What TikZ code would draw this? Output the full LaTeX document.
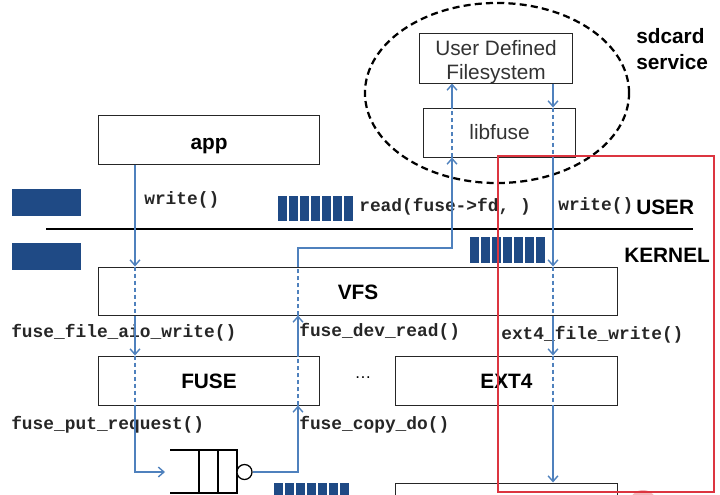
\documentclass[tikz,border=0pt]{standalone}
\usepackage{fontspec}
\setmainfont{Liberation Sans}
\setmonofont{Liberation Mono}
\usetikzlibrary{arrows.meta}
\definecolor{flowBlue}{HTML}{4F81BD}
\definecolor{barNavy}{HTML}{1F4A85}
\definecolor{markRed}{HTML}{DC3540}

\begin{document}
\begin{tikzpicture}[x=0.025cm, y=-0.025cm,
		layer/.style={
			draw=black!85, line width=0.7pt, minimum height=1.225cm,
			font=\fontsize{14.8}{17}\selectfont\bfseries, inner sep=0pt,
			text height=12pt, text depth=0pt
		},
		ufs/.style={
			layer, font=\fontsize{14.8}{17.7}\selectfont, text=black!80, align=center
		},
		call/.style={
			font=\fontsize{12.7}{15}\selectfont\ttfamily\bfseries, text=black!85,
			inner sep=0pt, anchor=west
		},
		side/.style={font=\fontsize{14.8}{18.4}\selectfont\bfseries, inner sep=0pt},
		flow/.style={flowBlue, line width=1pt},
		via/.style={flow, dash pattern=on 3pt off 2pt},
		tip/.style={-{Straight Barb[length=4pt,width=7pt]}}
		]
		
		\useasboundingbox (0,0) rectangle (720,494);
		
		% sdcard service
		\draw[line width=1.6pt, dash pattern=on 5pt off 3pt] (497,93) ellipse [x radius=3.3cm, y radius=2.25cm];
		\node[ufs, minimum width=3.8cm, minimum height=1.25cm, text height=31.2pt] (udf) at (496,58) {User Defined\\Filesystem};
		\node[ufs, minimum width=3.775cm, text height=10.6pt] (libfuse) at (499.5,132.5) {libfuse};
		\node[side, anchor=north west, align=left] (sdcard) at (636,28) {sdcard\\service};
		
		% layers
		\node[layer, minimum width=5.5cm, text height=14.9pt] (app) at (209,139.5) {app};
		\node[layer, minimum width=12.95cm, minimum height=1.2cm] (vfs) at (358,291) {VFS};
		\node[layer, minimum width=5.5cm] (fuse) at (209,380.5) {FUSE};
		\node[layer, minimum width=5.525cm] (ext4) at (506.5,380.5) {EXT4};
		\node[layer, minimum width=5.525cm] (blk) at (506.5,507.5) {};
		\node[font=\fontsize{12}{14}\selectfont, inner sep=0pt] (more) at (363,378) {\dots};
		
		% user / kernel split
		\draw[line width=0.8pt] (46,229) coordinate (split) -- (693,229);
		\node[side, anchor=west] (user) at (636,207) {USER};
		\node[side, anchor=west] (kernel) at (624,255) {KERNEL};
		\fill[barNavy] (12,189) rectangle (81,216);
		\fill[barNavy] (12,243) rectangle (81,270);
		
		% buffers
		\foreach \bx/\by/\bh in {278/196/25, 470/237/26, 274/483/20}
		\foreach \i in {0,...,6}
		\fill[barNavy] (\bx+\i*11,\by) rectangle ++(8.5,\bh);
		
		% call labels
		\node[call] (w1) at (144,200) {write()};
		\node[call] (rd) at (359,207) {read(fuse->fd, )};
		\node[call] (w2) at (558,206) {write()};
		\node[call] (faw) at (11,333) {fuse\_file\_aio\_write()};
		\node[call] (fdr) at (299,332) {fuse\_dev\_read()};
		\node[call] (efw) at (501,335) {ext4\_file\_write()};
		\node[call] (fpr) at (11,425) {fuse\_put\_request()};
		\node[call] (fcd) at (299,425) {fuse\_copy\_do()};
		
		% request queue
		\draw[line width=0.9pt] (170,450) -- (237,450) -- (237,494);
		\draw[line width=0.9pt] (170,493) -- (237,493);
		\draw[line width=0.9pt] (199,450) -- (199,494);
		\draw[line width=0.9pt] (218,450) -- (218,494);
		\node[circle, draw, line width=0.9pt, fill=white, minimum size=0.375cm, inner sep=0pt] (qout) at (244.5,472) {};
		
		% columns of the flows
		\coordinate (c1) at (135,0);
		\coordinate (c2) at (298,0);
		\coordinate (c3) at (452,248);
		\coordinate (c4) at (553,0);
		\coordinate (qin) at (165,472);
		
		% app -> FUSE -> queue
		\draw[flow, tip] (app.south -| c1) -- (vfs.north -| c1);
		\draw[via] (vfs.north -| c1) -- (vfs.south -| c1);
		\draw[flow, tip] (vfs.south -| c1) -- (fuse.north -| c1);
		\draw[via] (fuse.north -| c1) -- (fuse.south -| c1);
		\draw[flow, tip] (fuse.south -| c1) |- (qin);
		
		% queue -> libfuse -> filesystem
		\draw[flow, tip] (qout.east) -| (fuse.south -| c2);
		\draw[via] (fuse.south -| c2) -- (fuse.north -| c2);
		\draw[flow, tip] (fuse.north -| c2) -- (vfs.south -| c2);
		\draw[via] (vfs.south -| c2) -- (vfs.north -| c2);
		\draw[flow, tip] (vfs.north -| c2) |- (c3) -- (libfuse.south -| c3);
		\draw[via] (libfuse.south -| c3) -- (libfuse.north -| c3);
		\draw[flow, tip] (libfuse.north -| c3) -- (udf.south -| c3);
		
		% filesystem -> EXT4 -> block
		\draw[flow, tip] (udf.south -| c4) -- (libfuse.north -| c4);
		\draw[via] (libfuse.north -| c4) -- (libfuse.south -| c4);
		\draw[flow, tip] (libfuse.south -| c4) -- (vfs.north -| c4);
		\draw[via] (vfs.north -| c4) -- (vfs.south -| c4);
		\draw[flow, tip] (vfs.south -| c4) -- (ext4.north -| c4);
		\draw[via] (ext4.north -| c4) -- (ext4.south -| c4);
		\draw[flow, tip] (ext4.south -| c4) -- (blk.north -| c4);
		
		% highlight
		\fill[markRed!35] (643,504) circle (0.35cm);
		\draw[markRed, line width=1.3pt] (498,156) rectangle (714,492);
		
	\end{tikzpicture}
\end{document}
